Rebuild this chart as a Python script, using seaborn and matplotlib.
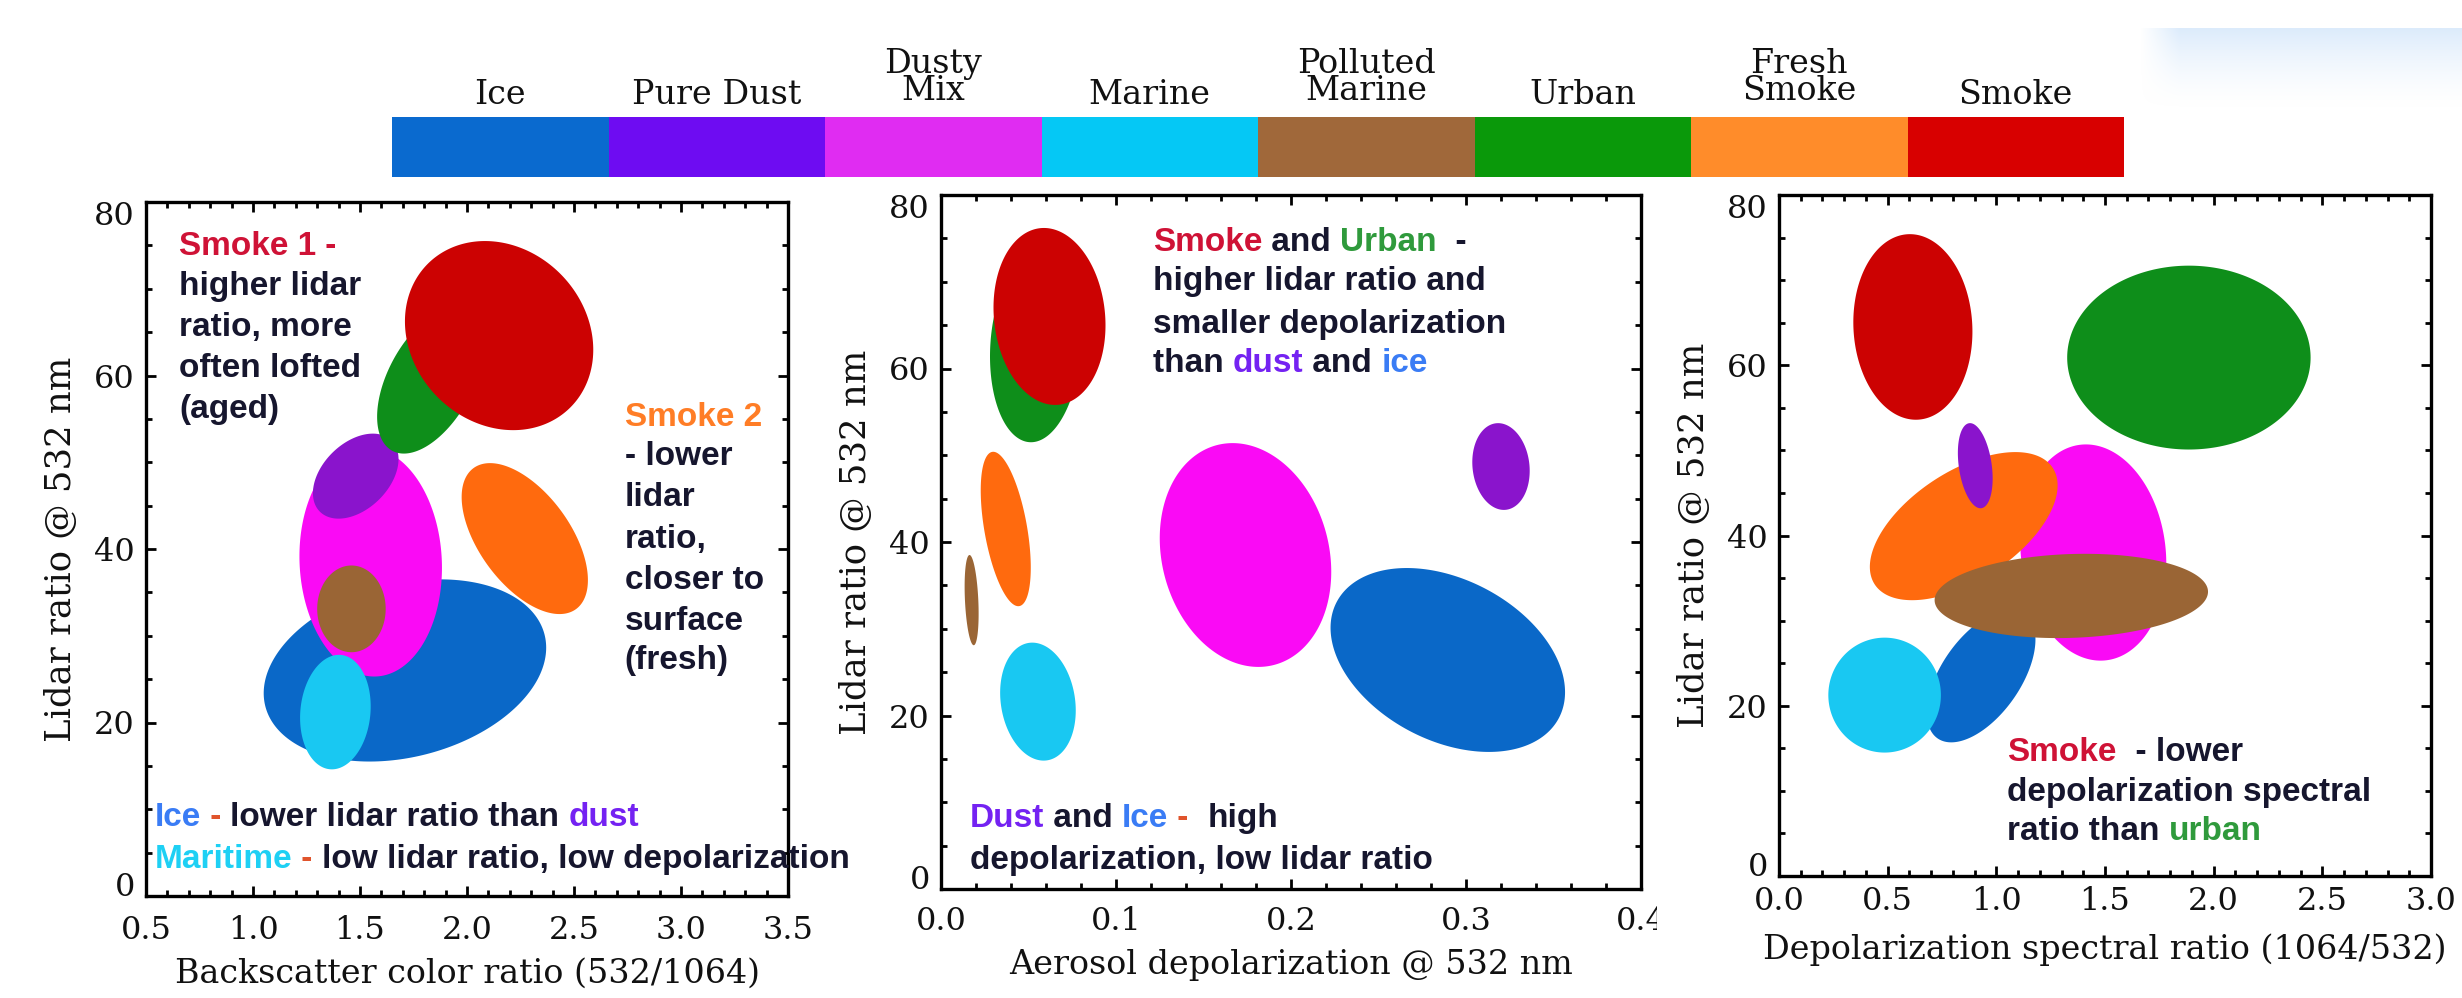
import numpy as np
import matplotlib
matplotlib.use("Agg")
import matplotlib.pyplot as plt
from matplotlib.colors import ListedColormap
from matplotlib.patches import Rectangle
from matplotlib.ticker import MultipleLocator, FormatStrFormatter
from matplotlib.transforms import ScaledTranslation
import seaborn as sns

# ---------------------------------------------------------------- classes
CLASS_KEYS = ["ice", "dust", "dusty", "marine", "pmarine", "urban", "fresh", "smoke"]
CLASS_LABELS = ["Ice", "Pure Dust", "Dusty\nMix", "Marine", "Polluted\nMarine",
                "Urban", "Fresh\nSmoke", "Smoke"]
BAR_COLORS = ["#0a6acf", "#6e0cf2", "#e02cf2", "#05c8f5", "#a0683a",
              "#0a990a", "#ff8c2a", "#d80000"]
FILL_COLORS = ["#0a68c8", "#8a14cc", "#fa0af5", "#19c8f2", "#9a6535",
               "#0e8e1a", "#ff6a0e", "#cc0202"]

# ------------------------------------------- cluster ellipses, panel 1
# backscatter color ratio (532/1064) vs lidar ratio
CR_CLASS = ["ice", "dusty", "dust", "pmarine", "marine", "urban", "smoke", "fresh"]
CR_X = [1.71, 1.55, 1.48, 1.46, 1.385, 1.83, 2.15, 2.27]
CR_Y = [26.0, 38.5, 48.4, 33.1, 21.2, 59.5, 64.6, 41.2]
CR_RX = [0.66, 0.333, 0.20, 0.16, 0.165, 0.25, 0.44, 0.295]
CR_RY = [10.5, 13.2, 4.9, 5.0, 6.6, 8.5, 10.9, 8.7]
CR_RHO = [0.25, -0.05, 0.4, 0.0, 0.1, 0.5, -0.15, -0.55]

# ------------------------------------------- cluster ellipses, panel 2
# aerosol depolarization @ 532 nm vs lidar ratio
DEP_CLASS = ["urban", "smoke", "fresh", "pmarine", "marine", "dusty", "dust", "ice"]
DEP_X = [0.054, 0.062, 0.037, 0.0175, 0.0554, 0.174, 0.320, 0.2896]
DEP_Y = [62.5, 66.0, 41.5, 33.3, 21.6, 38.5, 48.7, 26.4]
DEP_RX = [0.026, 0.032, 0.0143, 0.004, 0.0216, 0.049, 0.0164, 0.067]
DEP_RY = [11.0, 10.2, 8.9, 5.2, 6.8, 12.9, 5.0, 10.6]
DEP_RHO = [0.1, -0.1, -0.5, -0.3, -0.15, -0.15, -0.1, -0.35]

# ------------------------------------------- cluster ellipses, panel 3
# depolarization spectral ratio (1064/532) vs lidar ratio
DSR_CLASS = ["smoke", "urban", "ice", "dusty", "fresh", "dust", "pmarine", "marine"]
DSR_X = [0.616, 1.886, 0.93, 1.446, 0.85, 0.903, 1.345, 0.486]
DSR_Y = [64.5, 60.9, 23.5, 38.0, 41.1, 48.2, 32.9, 21.25]
DSR_RX = [0.274, 0.56, 0.25, 0.336, 0.432, 0.08, 0.629, 0.259]
DSR_RY = [10.9, 10.8, 7.8, 12.7, 8.7, 5.0, 4.95, 6.75]
DSR_RHO = [-0.05, 0.0, 0.55, -0.1, 0.55, -0.3, 0.1, 0.0]

# ------------------------------------------------------------ note text
DARK = "#16162e"
RED_TXT = "#cf1236"
ORANGE_TXT = "#ff7d26"
ICE_TXT = "#3a7cf5"
DUST_TXT = "#7422f2"
MARINE_TXT = "#1ed0f4"
GREEN_TXT = "#2f9a3c"
DASH_TXT = "#e0542c"

CR_NOTES = [
    (0.655, [74.9, 70.3, 65.5, 60.8, 56.1],
     [[("Smoke 1", RED_TXT), (" -", RED_TXT)],
      [("higher lidar", DARK)],
      [("ratio, more", DARK)],
      [("often lofted", DARK)],
      [("(aged)", DARK)]]),
    (2.736, [55.2, 50.7, 45.9, 41.1, 36.4, 31.7, 27.2],
     [[("Smoke 2", ORANGE_TXT)],
      [("- lower", DARK)],
      [("lidar", DARK)],
      [("ratio,", DARK)],
      [("closer to", DARK)],
      [("surface", DARK)],
      [("(fresh)", DARK)]]),
    (0.54, [9.0, 4.2],
     [[("Ice", ICE_TXT), (" - ", DASH_TXT), ("lower lidar ratio than ", DARK),
       ("dust", DUST_TXT)],
      [("Maritime", MARINE_TXT), (" - ", DASH_TXT),
       ("low lidar ratio, low depolarization", DARK)]]),
]

DEP_NOTES = [
    (0.121, [74.5, 70.0, 65.1, 60.6],
     [[("Smoke", RED_TXT), (" and ", DARK), ("Urban", GREEN_TXT), ("  -", DARK)],
      [("higher lidar ratio and", DARK)],
      [("smaller depolarization", DARK)],
      [("than ", DARK), ("dust", DUST_TXT), (" and ", DARK), ("ice", ICE_TXT)]]),
    (0.0164, [8.1, 3.3],
     [[("Dust", DUST_TXT), (" and ", DARK), ("Ice", ICE_TXT), (" -  ", DASH_TXT),
       ("high", DARK)],
      [("depolarization, low lidar ratio", DARK)]]),
]

DSR_NOTES = [
    (1.05, [14.5, 9.8, 5.2],
     [[("Smoke", RED_TXT), ("  - lower", DARK)],
      [("depolarization spectral", DARK)],
      [("ratio than ", DARK), ("urban", GREEN_TXT)]]),
]

SERIF = "DejaVu Serif"
NOTE_FONT = dict(family="Liberation Sans", fontweight="bold", fontsize=24)

sns.set_theme(style="ticks")
plt.rcParams["font.family"] = [SERIF, "DejaVu Sans"]

fig = plt.figure(figsize=(24.62, 9.98), dpi=100)
fig.patch.set_facecolor("white")

color_of = dict(zip(CLASS_KEYS, FILL_COLORS))


def draw_clusters(ax, classes, cx, cy, rx, ry, rho):
    """Filled covariance-style ellipses: bounding half-extents rx, ry and
    correlation rho between the two axes."""
    t = np.linspace(0, 2 * np.pi, 240)
    for k, x0, y0, a, b, r in zip(classes, cx, cy, rx, ry, rho):
        xs = x0 + a * np.cos(t)
        ys = y0 + b * (r * np.cos(t) + np.sqrt(1 - r * r) * np.sin(t))
        ax.fill(xs, ys, color=color_of[k], lw=0, zorder=2)


def rich_line(ax, x, y, pieces):
    txt = ax.text(x, y, pieces[0][0], color=pieces[0][1], ha="left",
                  va="center", zorder=6, **NOTE_FONT)
    for s, c in pieces[1:]:
        txt = ax.annotate(s, xy=(1, 0), xycoords=txt, ha="left", va="bottom",
                          color=c, zorder=6, **NOTE_FONT)


def draw_notes(ax, notes):
    for x, ys, lines in notes:
        for y, pieces in zip(ys, lines):
            rich_line(ax, x, y, pieces)


def style_axes(ax, xlim, xmajor, xminor, xfmt, xlabel, xpad,
               xlab_y, ylab_x):
    ax.set_xlim(*xlim)
    ax.set_ylim(0, 80)
    ax.xaxis.set_major_locator(MultipleLocator(xmajor))
    ax.xaxis.set_minor_locator(MultipleLocator(xminor))
    ax.xaxis.set_major_formatter(FormatStrFormatter(xfmt))
    ax.set_yticks([0, 20, 40, 60, 80])
    ax.yaxis.set_minor_locator(MultipleLocator(5))
    ax.tick_params(which="both", direction="in", top=True, right=True,
                   width=2.0, color="black")
    ax.tick_params(which="major", length=7)
    ax.tick_params(which="minor", length=4)
    ax.tick_params(axis="x", which="major", pad=xpad, labelsize=23)
    ax.tick_params(axis="y", which="major", pad=8, labelsize=23)
    for sp in ax.spines.values():
        sp.set_linewidth(2.4)
        sp.set_color("black")
    ax.set_facecolor("white")
    ax.set_xlabel(xlabel, fontsize=24, family=SERIF, color="#111111")
    ax.set_ylabel("Lidar ratio @ 532 nm", fontsize=25.5, family=SERIF,
                  color="#111111")
    ax.xaxis.set_label_coords(0.5, xlab_y)
    ax.yaxis.set_label_coords(ylab_x, 0.5)
    ax.grid(False)
    for lab in ax.get_xticklabels() + ax.get_yticklabels():
        lab.set_color("#111111")
        lab.set_family(SERIF)
    ylabs = ax.get_yticklabels()
    ylabs[-1].set_transform(ylabs[-1].get_transform()
                            + ScaledTranslation(0, -11 / 100, fig.dpi_scale_trans))
    ylabs[0].set_transform(ylabs[0].get_transform()
                           + ScaledTranslation(0, 12 / 100, fig.dpi_scale_trans))


W, H = 2462.0, 998.0


def axes_box(x0, y0, x1, y1):
    return [x0 / W, 1 - y1 / H, (x1 - x0) / W, (y1 - y0) / H]


# ------------------------------------------------------------- panel 1
ax1 = fig.add_axes(axes_box(146, 202, 788, 896))
draw_clusters(ax1, CR_CLASS, CR_X, CR_Y, CR_RX, CR_RY, CR_RHO)
style_axes(ax1, (0.5, 3.5), 0.5, 0.1, "%.1f",
           "Backscatter color ratio (532/1064)", 14, -0.089, -0.106)
draw_notes(ax1, CR_NOTES)

# ------------------------------------------------------------- panel 2
ax2 = fig.add_axes(axes_box(941, 195, 1641, 889))
draw_clusters(ax2, DEP_CLASS, DEP_X, DEP_Y, DEP_RX, DEP_RY, DEP_RHO)
style_axes(ax2, (0.0, 0.4), 0.1, 0.02, "%.1f",
           "Aerosol depolarization @ 532 nm", 12.6, -0.086, -0.097)
draw_notes(ax2, DEP_NOTES)

# right-hand panel sheet overlaps the edge of the middle one
fig.patches.append(Rectangle(((1657) / W, 1 - 960 / H), 90 / W, 65 / H,
                             transform=fig.transFigure, facecolor="white",
                             edgecolor="none", zorder=0.5))

# ------------------------------------------------------------- panel 3
ax3 = fig.add_axes(axes_box(1779, 195, 2431, 876))
ax3.set_zorder(1)
draw_clusters(ax3, DSR_CLASS, DSR_X, DSR_Y, DSR_RX, DSR_RY, DSR_RHO)
style_axes(ax3, (0.0, 3.0), 0.5, 0.1, "%.1f",
           "Depolarization spectral ratio (1064/532)", 7.5, -0.084, -0.104)
draw_notes(ax3, DSR_NOTES)

# ------------------------------------------------------ class colour key
axk = fig.add_axes(axes_box(392, 117, 2124, 177))
sns.heatmap(np.arange(len(CLASS_KEYS))[None, :], cmap=ListedColormap(BAR_COLORS),
            vmin=-0.5, vmax=len(CLASS_KEYS) - 0.5, cbar=False,
            xticklabels=False, yticklabels=False, linewidths=0, ax=axk)
for i, lab in enumerate(CLASS_LABELS):
    off = -0.17 if "\n" in lab else -0.10
    axk.text(i + 0.5, off, lab, ha="center", va="bottom", fontsize=24,
             family=SERIF, color="#111111", linespacing=0.8, clip_on=False)

# soft light-blue glow in the upper right corner of the sheet
axg = fig.add_axes(axes_box(2140, 28, 2462, 110))
axg.set_axis_off()
gy = np.linspace(1, 0, 60)[:, None]
gx = np.clip(np.linspace(0, 1, 200)[None, :] / 0.12, 0, 1)
alpha = (gy ** 1.6) * gx * 0.85
glow = np.zeros((60, 200, 4))
glow[..., 0], glow[..., 1], glow[..., 2] = 0.84, 0.91, 0.985
glow[..., 3] = alpha
axg.imshow(glow, aspect="auto", interpolation="bilinear")

fig.savefig("out.png", dpi=100, facecolor="white")
